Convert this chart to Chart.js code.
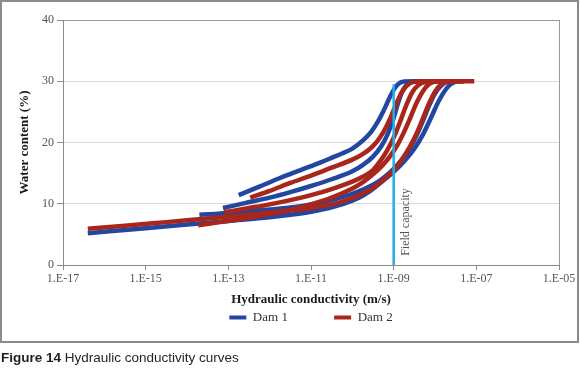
<!DOCTYPE html>
<html>
<head>
<meta charset="utf-8">
<title>Hydraulic conductivity curves</title>
<script src="https://cdn.jsdelivr.net/npm/chart.js@4.4.1/dist/chart.umd.min.js"></script>
<style>
  body { margin: 0; background: #fff; }
  #frame { position: absolute; left: 0; top: 0; width: 578px; height: 342px; }
  #frame canvas { position: absolute; left: 0; top: 0; }
  #border { position: absolute; left: 0; top: 0; width: 579px; height: 343px; box-sizing: border-box;
            border: 2px solid #8c8c8c; pointer-events: none; }
  #caption { position: absolute; left: 1px; top: 350px; font: 13.5px "Liberation Sans", Arial, sans-serif;
             line-height: 16px; color: #231f20; white-space: nowrap; }
</style>
</head>
<body>
<div id="frame">
  <canvas id="hk" width="578" height="342"></canvas>
  <div id="border"></div>
</div>
<div id="caption"><b>Figure 14</b> Hydraulic conductivity curves</div>
<script>
// x values are log10 of hydraulic conductivity (m/s), y values are water content (%)
const xTickValues = [-17, -15, -13, -11, -9, -7, -5];
const xTickLabels = ['1.E-17', '1.E-15', '1.E-13', '1.E-11', '1.E-09', '1.E-07', '1.E-05'];

// Dam 1 (blue)
const dam1aK = [-16.4, -15, -14, -13, -12, -11.5, -11, -10.5, -10, -9.75, -9.5, -9.25, -9, -8.75, -8.5, -8.3, -8.1, -7.9, -7.7, -7.55, -7.4, -7.3];
const dam1aW = [5.2, 6.0, 6.6, 7.2, 7.8, 8.2, 8.7, 9.4, 10.5, 11.3, 12.4, 13.8, 15.2, 16.9, 19.0, 21.2, 24.0, 26.9, 29.0, 29.8, 30, 30];
const dam1bK = [-12.75, -12.25, -11.75, -11.25, -10.75, -10.5, -10.25, -10, -9.75, -9.55, -9.4, -9.25, -9.1, -9, -8.9, -8.75, -8.5, -8];
const dam1bW = [11.4, 12.8, 14.2, 15.5, 16.8, 17.5, 18.2, 19.0, 20.3, 21.7, 23.2, 25.1, 27.3, 28.6, 29.5, 29.95, 30, 30];
const dam1cK = [-13.13, -12.6, -12, -11.5, -11, -10.5, -10, -9.75, -9.5, -9.3, -9.15, -9, -8.9, -8.8, -8.7, -8.55, -8.3, -7.9];
const dam1cW = [9.3, 10.1, 11.0, 11.9, 12.9, 14.0, 15.3, 16.3, 17.7, 19.4, 21.3, 24.0, 26.3, 28.2, 29.3, 29.9, 30, 30];
const dam1dK = [-13.7, -13, -12.3, -11.5, -11, -10.5, -10, -9.5, -9.25, -9, -8.8, -8.6, -8.45, -8.3, -8.15, -8, -7.85, -7.7, -7.5];
const dam1dW = [8.2, 8.5, 8.9, 9.4, 9.9, 10.6, 11.6, 13.1, 14.2, 15.7, 17.2, 19.2, 21.1, 23.4, 25.9, 28.0, 29.3, 29.9, 30];

// Dam 2 (red)
const dam2aK = [-16.4, -15.5, -14.5, -13.5, -12.5, -11.5, -11, -10.5, -10, -9.5, -9.25, -9, -8.8, -8.6, -8.45, -8.3, -8.15, -8, -7.85, -7.6, -7.05];
const dam2aW = [5.9, 6.4, 7.0, 7.6, 8.2, 8.9, 9.3, 9.9, 10.9, 12.6, 13.9, 15.5, 17.2, 19.4, 21.4, 23.8, 26.3, 28.3, 29.5, 30, 30];
const dam2bK = [-13.73, -13.2, -12.5, -12, -11.5, -11, -10.5, -10, -9.75, -9.5, -9.25, -9.05, -8.9, -8.75, -8.6, -8.45, -8.3, -8.15, -7.95, -7.3];
const dam2bW = [6.5, 7.0, 7.7, 8.3, 9.0, 9.9, 11.0, 12.5, 13.5, 14.8, 16.4, 18.1, 19.7, 21.7, 24.0, 26.4, 28.3, 29.5, 30, 30];
const dam2cK = [-12.47, -12, -11.5, -11, -10.5, -10, -9.75, -9.55, -9.4, -9.25, -9.1, -8.95, -8.82, -8.68, -8.5, -8.2, -7.6];
const dam2cW = [11.0, 12.1, 13.4, 14.6, 15.9, 17.2, 18.1, 19.1, 20.2, 21.7, 23.7, 26.1, 28.0, 29.3, 29.9, 30, 30];
const dam2dK = [-13.1, -12.5, -12, -11.5, -11, -10.5, -10, -9.75, -9.5, -9.3, -9.15, -9, -8.85, -8.7, -8.55, -8.4, -8.2, -7.9, -7.5];
const dam2dW = [8.6, 9.3, 9.9, 10.6, 11.4, 12.4, 13.6, 14.4, 15.5, 17.2, 18.8, 20.8, 23.3, 26.0, 28.2, 29.4, 29.9, 30, 30];

// field capacity marker
const fieldCapK = [-9, -9];
const fieldCapW = [0, 29.5];

const blue = '#2347a0';
const red = '#a8261b';
const serif = '"Liberation Serif", "DejaVu Serif", serif';
const legendGap = '             '; // widens the space between the two legend entries

function curve(label, k, w, color, inLegend, order) {
    return {
        label: label,
        data: k.map((v, i) => ({ x: v, y: w[i] })),
        borderColor: color,
        backgroundColor: color,
        borderWidth: 4.5,
        pointRadius: 0,
        showLine: true,
        cubicInterpolationMode: 'monotone',
        inLegend: inLegend,
        order: order
    };
}

const fieldCapLabel = {
    id: 'fieldCapLabel',
    afterDatasetsDraw(chart) {
        const { ctx, scales: { x, y } } = chart;
        ctx.save();
        ctx.translate(x.getPixelForValue(fieldCapK[0]) + 12, y.getPixelForValue(1.5));
        ctx.rotate(-Math.PI / 2);
        ctx.font = '12px ' + serif;
        ctx.fillStyle = '#555';
        ctx.textBaseline = 'middle';
        ctx.fillText('Field capacity', 0, 0);
        ctx.restore();
    }
};

var ctx = document.getElementById('hk').getContext('2d');
var hkChart = new Chart(ctx, {
    type: 'scatter',
    data: {
        datasets: [
            curve('Dam 1', dam1aK, dam1aW, blue, true, 2),
            curve('Dam 1', dam1bK, dam1bW, blue, false, 2),
            curve('Dam 1', dam1cK, dam1cW, blue, false, 2),
            curve('Dam 1', dam1dK, dam1dW, blue, false, 2),
            curve('Dam 2', dam2aK, dam2aW, red, true, 1),
            curve('Dam 2', dam2bK, dam2bW, red, false, 1),
            curve('Dam 2', dam2cK, dam2cW, red, false, 1),
            curve('Dam 2', dam2dK, dam2dW, red, false, 1),
            {
                label: 'Field capacity',
                data: fieldCapK.map((v, i) => ({ x: v, y: fieldCapW[i] })),
                borderColor: '#1fb0e6',
                borderWidth: 2.5,
                pointRadius: 0,
                showLine: true,
                inLegend: false,
                order: 0
            }
        ]
    },
    plugins: [fieldCapLabel],
    options: {
        responsive: false,
        animation: false,
        layout: { padding: { top: 20, right: 19, bottom: 8, left: 0 } },
        plugins: {
            tooltip: { enabled: false },
            legend: {
                position: 'bottom',
                fullSize: false,
                labels: {
                    boxWidth: 17,
                    boxHeight: 4,
                    padding: 4,
                    color: '#333',
                    font: { family: serif, size: 13 },
                    generateLabels: function(chart) {
                        return Chart.defaults.plugins.legend.labels.generateLabels(chart)
                            .filter(item => chart.data.datasets[item.datasetIndex].inLegend)
                            .sort((a, b) => a.datasetIndex - b.datasetIndex)
                            .map((item, i) => Object.assign(item, {
                                lineWidth: 0,
                                text: i === 0 ? item.text + legendGap : item.text
                            }));
                    }
                }
            }
        },
        scales: {
            x: {
                type: 'linear',
                min: -17,
                max: -5,
                afterBuildTicks: s => { s.ticks = xTickValues.map(v => ({ value: v })); },
                afterFit: s => { s.height = 42; },
                ticks: {
                    callback: v => xTickLabels[xTickValues.indexOf(v)],
                    color: '#555',
                    font: { family: serif, size: 12 },
                    padding: 2,
                    maxRotation: 0,
                    autoSkip: false
                },
                grid: {
                    color: c => (c.tick && c.tick.value === -5) ? '#9a9a9a' : 'rgba(0,0,0,0)',
                    tickColor: '#8a8a8a',
                    tickLength: 5
                },
                border: { color: '#8a8a8a', width: 1 },
                title: {
                    display: true,
                    text: 'Hydraulic conductivity (m/s)',
                    color: '#1a1a1a',
                    font: { family: serif, size: 13, weight: 'bold' },
                    padding: { top: 2, bottom: 0 }
                }
            },
            y: {
                min: 0,
                max: 40,
                afterFit: s => { s.width = 63; },
                ticks: {
                    stepSize: 10,
                    color: '#555',
                    font: { family: serif, size: 12 },
                    padding: 3
                },
                grid: {
                    color: c => (c.tick && c.tick.value === 40) ? '#9a9a9a' : '#dcdcdc',
                    tickColor: '#8a8a8a',
                    tickLength: 6
                },
                border: { color: '#8a8a8a', width: 1 },
                title: {
                    display: true,
                    text: 'Water content (%)',
                    color: '#1a1a1a',
                    font: { family: serif, size: 13, weight: 'bold' },
                    padding: { top: 17, bottom: 0 }
                }
            }
        }
    }
});
</script>
</body>
</html>
